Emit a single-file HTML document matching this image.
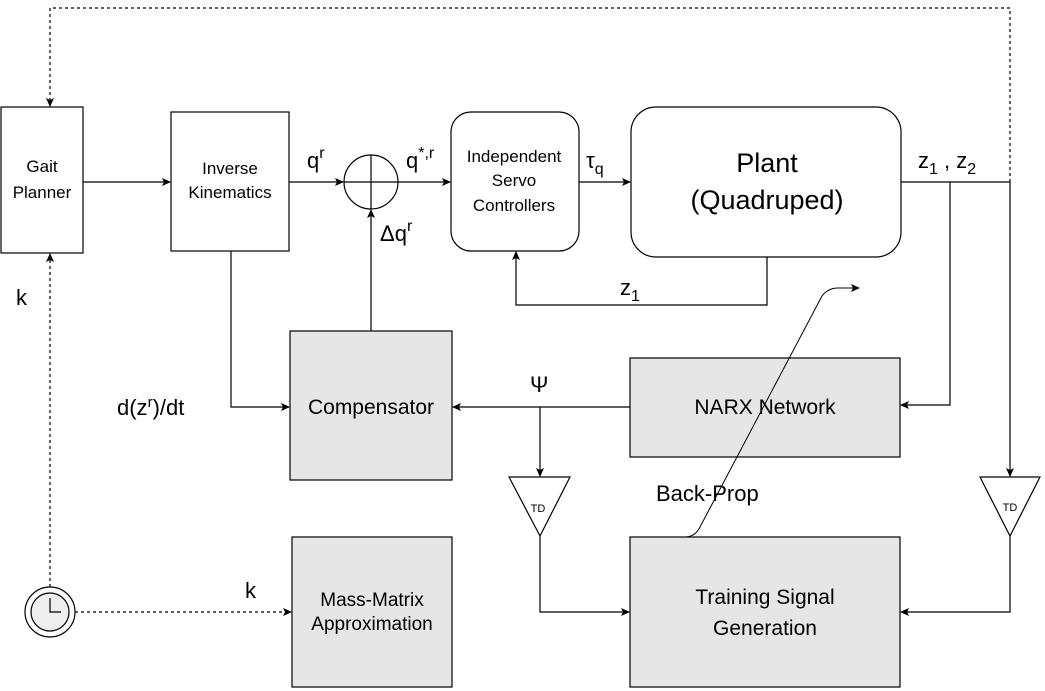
<!DOCTYPE html>
<html><head><meta charset="utf-8"><style>body{margin:0;background:#fff}svg{display:block}text{font-family:"Liberation Sans",sans-serif;fill:#000}</style></head><body>
<svg width="1045" height="691" viewBox="0 0 1045 691" xmlns="http://www.w3.org/2000/svg">
<defs><marker id="a" markerWidth="10" markerHeight="10" refX="8" refY="4" orient="auto" markerUnits="userSpaceOnUse"><path d="M0,0 L9,4 L0,8 L2,4 z" fill="#000"/></marker></defs>
<g stroke="#000" stroke-width="1.2" fill="none">
<rect x="1" y="107" width="82" height="146" fill="#fff"/>
<rect x="171" y="112" width="118" height="139" fill="#fff"/>
<circle cx="371" cy="182" r="27"/>
<line x1="344" y1="182" x2="398" y2="182"/><line x1="371" y1="155" x2="371" y2="209"/>
<rect x="451" y="112" width="128" height="139" rx="20" fill="#fff"/>
<rect x="631" y="107" width="270" height="150" rx="25" fill="#fff"/>
<rect x="290" y="331" width="162" height="149" fill="#e6e6e6"/>
<rect x="630" y="358" width="270" height="99" fill="#e6e6e6"/>
<rect x="630" y="537" width="270" height="150" fill="#e6e6e6"/>
<rect x="292" y="537" width="160" height="150" fill="#e6e6e6"/>
<path d="M509,477 L570,477 L540,536 Z" fill="#fff"/>
<path d="M980,477 L1040,477 L1010,536 Z" fill="#fff"/>
<line x1="83" y1="182" x2="170" y2="182" marker-end="url(#a)"/>
<line x1="289" y1="182" x2="343" y2="182" marker-end="url(#a)"/>
<line x1="398" y1="182" x2="450" y2="182" marker-end="url(#a)"/>
<line x1="579" y1="182" x2="630" y2="182" marker-end="url(#a)"/>
<line x1="901" y1="182" x2="1010" y2="182"/>
<path d="M1010,182 L1010,8 L50,8 L50,106" stroke-dasharray="3,3" marker-end="url(#a)"/>
<path d="M950,182 L950,405 L901,405" marker-end="url(#a)"/>
<path d="M1010,182 L1010,476" marker-end="url(#a)"/>
<path d="M767,257 L767,305 L516,305 L516,252" marker-end="url(#a)"/>
<path d="M371,331 L371,210" marker-end="url(#a)"/>
<path d="M231,251 L231,407 L289,407" marker-end="url(#a)"/>
<path d="M630,407 L453,407" marker-end="url(#a)"/>
<path d="M540,407 L540,476" marker-end="url(#a)"/>
<path d="M540,536 L540,612 L629,612" marker-end="url(#a)"/>
<path d="M1010,536 L1010,612 L901,612" marker-end="url(#a)"/>
<path d="M50,587 L50,254" stroke-dasharray="3,3" marker-end="url(#a)"/>
<path d="M75,612 L291,612" stroke-dasharray="3,3" marker-end="url(#a)"/>
<path d="M685,537 Q695,537 700,527 L822,296 Q828,288 838,288 L859,288" stroke-width="1" marker-end="url(#a)"/>
<circle cx="50" cy="612" r="25" fill="#fff"/>
<circle cx="50" cy="612" r="19" fill="#eee"/>
<path d="M50,598 L50,612 L61,612"/>
</g>
<g font-size="17" text-anchor="middle">
<text x="42" y="172">Gait</text><text x="42" y="198">Planner</text>
<text x="230" y="174">Inverse</text><text x="230" y="198">Kinematics</text>
<text x="514" y="162">Independent</text><text x="514" y="186">Servo</text><text x="514" y="211">Controllers</text>
<text x="767" y="172" font-size="27">Plant</text><text x="767" y="209" font-size="27">(Quadruped)</text>
<text x="371" y="414" font-size="21">Compensator</text>
<text x="765" y="414" font-size="21">NARX Network</text>
<text x="765" y="604" font-size="21">Training Signal</text><text x="765" y="635" font-size="21">Generation</text>
<text x="372" y="606" font-size="19">Mass-Matrix</text><text x="372" y="630" font-size="19">Approximation</text>
<text x="538" y="512" font-size="11">TD</text><text x="1010" y="511" font-size="11">TD</text>
</g>
<g font-size="22">
<text x="16" y="305">k</text>
<text x="245" y="598">k</text>
<text x="117" y="415">d(z<tspan dy="-8" font-size="15">r</tspan><tspan dy="8">)/dt</tspan></text>
<text x="530" y="392">Ψ</text>
<text x="656" y="501">Back-Prop</text>
<text x="307" y="168">q<tspan dy="-10" font-size="16">r</tspan></text>
<text x="406" y="168">q<tspan dy="-10" font-size="16">*,r</tspan></text>
<text x="380" y="241">Δq<tspan dy="-10" font-size="16">r</tspan></text>
<text x="586" y="168">τ<tspan dy="6" font-size="16">q</tspan></text>
<text x="620" y="295">z<tspan dy="6" font-size="16">1</tspan></text>
<text x="918" y="168">z<tspan dy="6" font-size="16">1</tspan><tspan dy="-6"> , z</tspan><tspan dy="6" font-size="16">2</tspan></text>
</g>
</svg>
</body></html>
